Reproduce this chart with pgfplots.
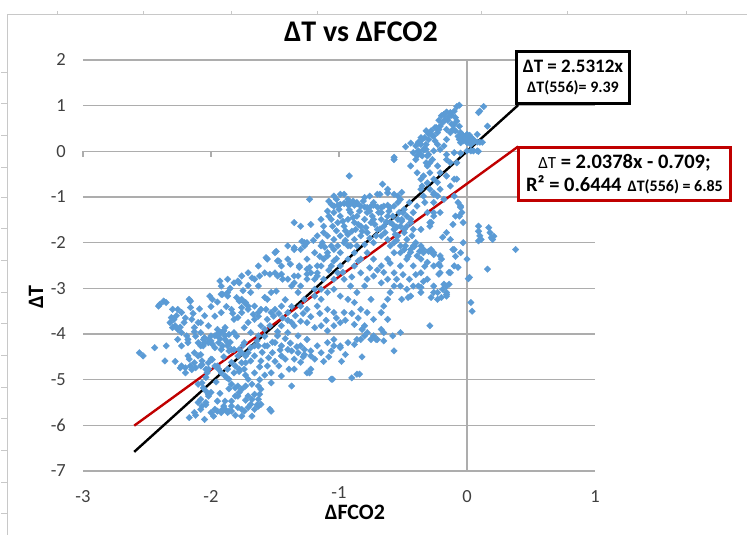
\documentclass[border=0pt]{standalone}
\usepackage{fontspec}
\setmainfont{Carlito}
\usepackage{pgfplots}
\usepackage{pgfplotstable}
\pgfplotsset{compat=1.18}
\definecolor{scat}{HTML}{5B9BD5}
\definecolor{fitred}{HTML}{C00000}
\definecolor{gridc}{HTML}{ADADAD}
\definecolor{tickc}{HTML}{404040}
\definecolor{framec}{HTML}{C8C8C8}
\newcommand\fs[2]{\fontsize{#1}{#2}\selectfont}

\pgfplotstableread{
x y
-2.17 -5.83
-2.13 -5.72
-2.08 -5.65
-2.05 -5.87
-2.00 -5.72
-1.95 -5.69
-1.91 -5.65
-1.87 -5.72
-1.84 -5.69
-1.79 -5.61
-1.76 -5.65
-1.74 -5.69
-1.71 -5.61
-1.69 -5.54
-1.66 -5.65
-1.54 -5.65
-2.08 -5.43
-2.02 -5.36
-2.00 -5.28
-1.95 -5.47
-1.89 -5.47
-1.84 -5.47
-1.79 -5.36
-1.76 -5.21
-1.71 -5.36
-1.66 -5.32
-1.63 -5.43
-1.61 -5.21
-1.79 -5.14
-1.71 -4.99
-1.66 -4.85
-1.53 -5.07
-1.45 -4.92
-1.37 -5.14
-2.12 -5.78
-1.98 -5.80
-1.81 -5.78
-2.04 -5.55
-1.93 -5.30
-1.86 -5.20
-1.73 -5.45
-1.68 -5.10
-1.62 -5.00
-1.58 -4.90
-1.64 -5.55
-1.90 -5.58
-2.10 -5.50
-1.62 -5.32
-1.61 -5.54
-1.53 -5.69
-1.63 -5.14
-1.39 -4.77
-1.35 -4.77
-1.23 -4.85
-1.22 -4.77
-1.05 -4.99
-0.90 -4.96
-0.84 -4.88
-0.82 -4.50
-0.75 -4.12
-0.71 -4.12
-0.65 -4.15
-0.58 -4.04
-0.57 -4.37
-2.10 -5.10
-2.07 -5.07
-2.06 -5.18
-2.04 -5.25
-2.02 -5.32
-2.04 -5.50
-2.07 -5.58
-1.97 -5.65
-1.92 -5.72
-1.89 -5.65
-1.86 -5.69
-1.84 -5.58
-1.81 -5.36
-1.78 -5.28
-1.73 -5.14
-1.68 -5.43
-1.76 -5.80
-1.68 -5.80
-1.63 -5.58
-1.94 -4.77
-1.92 -4.85
-1.89 -4.92
-1.86 -4.99
-1.84 -5.10
-1.81 -5.18
-1.78 -4.77
-1.73 -4.63
-1.69 -4.59
-2.23 -4.70
-2.18 -4.48
-2.13 -4.41
-2.08 -4.26
-2.02 -4.19
-1.97 -4.30
-1.92 -4.34
-1.87 -4.26
-1.82 -4.34
-1.79 -4.48
-1.76 -4.63
-1.71 -4.41
-1.66 -4.48
-1.61 -4.59
-1.56 -4.70
-2.26 -4.12
-2.18 -4.12
-2.10 -4.19
-2.05 -4.08
-2.00 -4.15
-1.95 -4.04
-1.89 -4.12
-2.23 -4.26
-2.13 -4.63
-2.02 -4.77
-1.95 -4.70
-1.87 -4.77
-1.82 -4.85
-1.74 -4.77
-1.66 -4.26
-1.58 -4.26
-1.52 -4.41
-1.45 -4.48
-1.37 -4.37
-1.32 -4.41
-1.27 -4.34
-1.22 -4.48
-1.17 -4.26
-1.09 -4.19
-1.04 -4.12
-0.99 -4.26
-0.93 -4.19
-0.88 -4.23
-0.83 -4.12
-1.06 -4.99
-0.86 -4.88
-1.25 -4.85
-1.53 -4.85
-2.56 -4.41
-2.53 -4.48
-2.44 -4.30
-2.36 -4.59
-2.35 -4.26
-2.31 -3.64
-2.30 -3.46
-2.28 -3.82
-2.26 -3.90
-2.23 -3.97
-2.19 -4.04
-2.40 -3.35
-2.37 -3.28
-2.35 -3.31
-2.26 -3.46
-2.23 -3.53
-2.17 -3.24
-2.41 -3.39
-2.27 -3.60
-2.30 -3.86
-2.18 -4.19
-2.29 -3.68
-2.21 -3.75
-2.16 -3.28
-2.16 -3.42
-1.93 -2.84
-1.78 -2.88
-1.68 -2.77
-1.62 -2.73
-2.01 -3.17
-1.99 -3.24
-1.91 -3.13
-1.87 -3.17
-1.78 -3.28
-1.73 -3.31
-1.76 -3.42
-1.71 -3.39
-1.94 -3.97
-1.90 -3.93
-1.89 -4.04
-1.86 -4.01
-1.84 -4.34
-1.86 -4.37
-1.78 -4.34
-1.76 -4.41
-1.73 -4.48
-2.24 -4.74
-2.20 -4.74
-2.16 -4.70
-2.12 -4.74
-2.08 -4.70
-2.07 -4.67
-2.04 -4.77
-2.03 -4.85
-2.10 -4.48
-2.07 -4.59
-2.02 -4.63
-1.99 -4.56
-1.97 -4.70
-1.94 -4.19
-1.91 -4.26
-1.97 -4.04
-2.02 -4.12
-2.06 -4.26
-1.84 -4.62
-1.81 -4.70
-1.78 -4.82
-1.73 -4.90
-1.62 -4.72
-1.88 -4.95
-1.90 -4.50
-2.00 -4.55
-2.15 -4.78
-2.20 -4.85
-2.04 -4.95
-1.96 -5.05
-2.15 -3.68
-2.10 -3.75
-2.08 -3.97
-2.05 -4.19
-2.02 -3.82
-1.97 -3.61
-1.95 -3.90
-1.92 -3.97
-1.89 -3.86
-1.87 -4.19
-1.82 -3.97
-1.79 -3.64
-1.76 -3.53
-1.71 -3.75
-1.69 -3.97
-1.66 -3.68
-1.63 -3.53
-1.61 -3.82
-1.58 -3.90
-1.56 -3.68
-1.92 -3.13
-1.87 -3.09
-1.79 -2.84
-1.76 -3.24
-1.74 -3.31
-1.69 -3.09
-1.63 -2.95
-1.58 -3.20
-1.56 -3.24
-1.53 -3.09
-1.49 -3.06
-1.48 -2.73
-1.40 -2.80
-1.35 -2.88
-1.31 -2.51
-1.25 -2.58
-1.19 -2.80
-1.17 -2.66
-1.14 -3.02
-1.12 -2.80
-1.61 -3.46
-1.63 -3.61
-1.84 -3.46
-1.82 -3.68
-1.74 -3.86
-1.66 -3.39
-2.08 -3.75
-2.13 -3.86
-2.00 -4.04
-1.92 -3.53
-1.71 -3.46
-1.67 -3.57
-1.57 -3.46
-1.54 -3.82
-1.51 -3.61
-1.63 -4.04
-1.74 -4.19
-1.92 -2.95
-1.71 -2.94
-1.48 -3.95
-1.42 -4.10
-1.38 -4.20
-1.33 -4.28
-1.46 -4.35
-1.52 -4.18
-1.58 -4.05
-1.44 -3.65
-1.47 -3.55
-1.40 -3.70
-1.53 -3.53
-1.50 -3.46
-1.45 -3.39
-1.40 -3.53
-1.37 -3.75
-1.35 -3.82
-1.30 -3.72
-1.25 -3.75
-1.19 -3.86
-1.14 -3.82
-1.09 -3.93
-1.04 -3.82
-0.99 -3.75
-1.45 -3.82
-1.40 -3.97
-1.32 -4.04
-1.25 -4.12
-1.04 -4.26
-1.48 -4.04
-1.50 -4.19
-1.56 -4.26
-1.63 -4.26
-1.45 -4.26
-1.40 -4.34
-1.30 -4.26
-1.27 -4.45
-1.22 -4.37
-1.14 -4.41
-1.06 -4.37
-0.99 -4.30
-0.86 -4.12
-0.80 -4.04
-0.78 -3.97
-0.73 -4.04
-0.70 -4.12
-0.65 -3.97
-0.52 -3.97
-0.67 -3.90
-0.80 -3.82
-0.88 -3.79
-0.96 -3.53
-1.04 -3.53
-1.09 -3.46
-1.17 -3.39
-1.27 -3.24
-1.32 -3.09
-1.30 -3.39
-1.25 -3.46
-1.19 -3.17
-1.14 -3.24
-1.09 -3.09
-1.04 -3.02
-0.99 -3.17
-0.93 -3.24
-0.88 -3.31
-0.83 -3.46
-0.78 -3.53
-0.73 -3.68
-0.67 -3.53
-0.65 -3.39
-0.62 -3.24
-0.60 -3.09
-0.57 -2.95
-0.62 -3.68
-0.75 -3.24
-0.80 -2.95
-0.86 -3.09
-0.91 -2.95
-0.96 -2.80
-1.01 -2.66
-1.06 -2.51
-1.12 -2.36
-1.17 -2.51
-1.22 -2.66
-1.25 -2.80
-1.30 -2.95
-1.32 -2.73
-1.19 -3.02
-1.04 -2.80
-0.99 -2.51
-0.93 -2.36
-0.88 -2.51
-0.83 -2.66
-0.78 -2.80
-0.73 -2.73
-0.67 -2.88
-0.62 -2.80
-0.57 -2.66
-0.52 -2.51
-0.52 -2.95
-0.47 -3.02
-0.42 -2.95
-0.36 -3.09
-0.31 -2.80
-0.26 -2.95
-0.23 -3.09
-0.16 -2.95
-0.16 -3.09
-0.13 -2.66
-0.21 -2.51
-0.26 -2.51
-0.36 -2.66
-0.42 -2.51
-0.47 -2.36
-0.52 -2.22
-0.57 -2.22
-0.62 -2.36
-0.67 -2.51
-0.73 -2.36
-0.78 -2.22
-0.83 -2.36
-0.88 -2.22
-0.93 -2.07
-0.99 -2.22
-1.04 -2.15
-1.09 -2.22
-1.14 -2.07
-1.19 -2.22
-1.25 -2.36
-1.27 -2.07
-1.30 -2.15
-1.35 -2.11
-1.40 -2.07
-1.40 -2.36
-1.45 -2.51
-1.50 -2.22
-1.56 -2.36
-1.58 -2.66
-1.63 -2.51
-1.66 -2.80
-1.71 -2.66
-1.76 -2.73
-1.82 -2.88
-1.87 -2.80
-1.50 -2.66
-1.44 -2.80
-1.37 -2.95
-0.36 -2.07
-0.26 -2.22
-0.21 -2.29
-0.10 -2.15
-0.05 -2.22
0.16 -2.58
-1.06 -1.16
-1.04 -1.20
-1.01 -1.18
-0.99 -1.16
-0.96 -1.14
-0.93 -1.17
-0.91 -1.15
-0.88 -1.18
-0.86 -1.15
-0.83 -1.20
-0.80 -1.22
-0.78 -1.23
-0.75 -1.20
-0.73 -1.18
-0.70 -1.22
-0.67 -1.23
-0.65 -1.20
-0.62 -1.18
-0.60 -1.23
-0.57 -1.20
-1.04 -0.98
-0.99 -0.94
-0.93 -1.05
-0.80 -1.01
-0.70 -0.94
-0.62 -0.91
-0.54 -0.98
-0.52 -1.05
-1.09 -1.31
-1.08 -1.42
-1.06 -1.49
-1.04 -1.34
-1.01 -1.56
-0.99 -1.42
-0.96 -1.64
-0.93 -1.49
-0.91 -1.34
-0.88 -1.56
-0.86 -1.42
-0.83 -1.64
-0.80 -1.49
-0.78 -1.34
-0.75 -1.56
-0.73 -1.49
-0.70 -1.71
-0.67 -1.49
-0.65 -1.64
-0.62 -1.42
-0.60 -1.56
-0.57 -1.71
-0.54 -1.49
-0.52 -1.64
-0.49 -1.78
-1.12 -1.78
-1.09 -1.85
-1.04 -1.93
-0.99 -1.85
-0.93 -1.82
-0.88 -1.93
-0.83 -1.85
-0.78 -1.78
-0.73 -2.00
-0.67 -1.85
-0.62 -1.93
-0.60 -2.07
-0.57 -2.00
-0.54 -1.85
-0.52 -2.07
-0.47 -1.93
-0.44 -2.15
-0.42 -2.07
-0.39 -2.29
-0.34 -2.22
-0.29 -2.18
-1.12 -1.64
-1.13 -2.00
-1.06 -2.07
-1.01 -2.07
-0.96 -2.00
-0.91 -2.07
-0.86 -2.07
-0.80 -2.04
-1.09 -2.29
-1.04 -2.40
-1.00 -1.27
-0.92 -1.28
-0.84 -1.31
-0.76 -1.31
-0.69 -1.34
-0.61 -1.31
-0.53 -1.34
-1.02 -1.74
-0.95 -1.74
-0.87 -1.71
-0.79 -1.67
-0.71 -1.85
-0.64 -1.78
-0.56 -1.82
-1.05 -1.64
-0.97 -1.53
-0.89 -1.45
-0.74 -1.42
-0.67 -1.34
-0.58 -1.42
-0.51 -1.49
-0.47 -1.64
-0.48 -2.07
-0.43 -1.85
-0.40 -2.00
-1.35 -1.56
-1.30 -1.64
-1.22 -1.60
-1.27 -2.00
-1.57 -2.33
-1.48 -2.40
-1.23 -1.05
-0.92 -0.54
-1.14 -1.49
-1.17 -1.85
-1.29 -1.97
-1.25 -2.00
-1.49 -2.19
-1.35 -2.15
-1.11 -2.10
-1.47 -2.40
-1.38 -2.47
-1.31 -2.54
-1.23 -2.54
-1.14 -2.51
-1.54 -2.69
-1.45 -2.69
-1.35 -2.73
-1.25 -2.69
-1.17 -2.73
-1.08 -1.09
-1.02 -1.05
-0.96 -0.94
-0.93 -1.12
-0.89 -1.09
-0.86 -1.12
-0.81 -1.09
-0.76 -0.98
-0.73 -1.12
-0.68 -0.94
-0.44 -0.32
-0.40 -0.18
-0.39 -0.47
-0.36 -0.61
-0.35 -0.76
-0.34 -0.54
-0.31 -0.69
-0.29 -0.83
-0.26 -0.91
-0.23 -0.98
-0.21 -0.83
-0.18 -1.05
-0.26 -0.61
-0.29 -0.47
-0.31 -0.32
-0.32 -0.25
-0.35 -0.10
-0.38 0.01
-0.40 0.12
-0.36 0.15
-0.32 0.04
-0.30 -0.07
-0.27 -0.18
-0.23 -0.32
-0.21 -0.47
-0.16 -0.54
-0.13 -0.76
-0.10 -0.98
-0.08 -0.61
-0.05 -1.20
-0.06 -1.42
-0.04 -1.34
-0.16 -0.18
-0.26 -1.42
-0.29 -1.56
-0.21 -1.34
-0.29 -1.64
-0.36 -1.71
-0.42 -1.71
-0.44 -1.56
-0.47 -1.42
-0.42 -1.34
-0.39 -1.20
-0.45 -1.12
-0.49 -1.27
-0.13 -1.93
-0.03 -2.00
-0.16 -1.78
0.00 -2.36
-0.57 -0.18
-0.66 -0.72
-0.62 -0.83
-0.57 -0.94
0.02 -2.76
-0.09 -2.30
-0.07 -2.54
-0.14 -2.65
-0.11 -2.15
-0.19 -1.88
-0.20 -2.36
-0.22 -2.47
-0.22 -2.69
-0.28 -2.15
-0.26 -2.26
-0.14 -2.91
-0.18 -2.91
-0.19 -3.02
-0.16 -3.13
-0.20 -3.20
-0.23 -3.24
-0.28 -3.20
-0.26 -3.09
-0.36 -2.98
-0.38 -2.95
-0.44 -3.17
-0.46 -3.20
-0.51 -3.24
-0.33 -2.52
-0.31 -2.43
-0.36 -2.36
-0.37 -2.19
-0.34 -2.15
-0.30 -2.19
-0.41 -2.08
-0.44 -2.21
-0.46 -2.30
-0.49 -2.15
-0.03 -1.56
-0.05 -1.23
-0.07 -1.12
-0.09 -1.42
-0.11 -1.60
-0.05 -0.04
-0.10 -0.61
-0.23 -0.68
-0.26 -0.94
-0.26 -1.12
-0.26 -1.34
-0.28 -1.56
-0.31 -1.34
-0.33 -1.12
-0.34 -0.98
-0.36 -0.83
-0.51 -0.90
-0.54 -1.12
-0.50 -1.34
-0.51 -1.53
-0.55 -1.66
-0.49 -1.71
-0.44 -1.49
-0.06 1.01
-0.08 0.98
-0.10 0.88
-0.13 0.85
-0.16 0.86
-0.18 0.81
-0.14 0.76
-0.12 0.79
-0.09 0.74
-0.08 0.66
-0.17 0.70
-0.19 0.63
-0.21 0.55
-0.22 0.48
-0.23 0.41
-0.25 0.52
-0.26 0.34
-0.25 0.23
-0.23 0.15
-0.21 0.04
-0.18 0.12
-0.16 0.26
-0.13 0.41
-0.11 0.48
-0.10 0.59
-0.06 0.55
-0.05 0.41
-0.04 0.34
-0.03 0.30
-0.01 0.26
0.00 0.28
0.01 0.23
0.03 0.30
0.04 0.26
-0.03 0.23
-0.05 0.19
0.00 0.19
0.03 0.15
-0.06 0.26
-0.04 0.37
0.00 0.37
0.05 0.26
0.08 0.37
0.00 0.01
0.03 0.01
0.05 0.01
0.08 0.01
0.10 0.88
0.13 0.98
0.09 0.85
0.16 0.55
-0.16 0.48
-0.42 -0.03
-0.34 0.04
-0.31 -0.10
-0.29 -0.25
-0.35 0.26
-0.32 0.15
-0.30 0.26
-0.27 0.34
-0.13 -0.25
-0.08 -0.25
-0.10 -0.03
-0.16 -0.07
-0.26 0.01
-0.39 -0.10
-0.02 0.32
0.02 0.35
0.04 0.20
-0.04 0.28
0.01 0.30
-0.07 0.33
0.06 0.22
0.08 0.20
0.10 0.20
0.12 0.20
-0.09 0.45
-0.12 0.60
-0.15 0.68
-0.20 0.78
-0.22 0.68
-0.28 0.45
-0.30 0.38
-0.32 0.45
-0.36 0.30
-0.38 0.20
-0.44 0.18
-0.48 0.10
-0.57 -0.13
-0.36 -0.07
-0.33 0.04
-0.33 0.30
-0.24 0.52
-0.18 0.81
0.09 0.00
0.09 -1.64
0.17 -1.67
0.19 -1.89
0.09 -1.96
0.01 -2.79
0.03 -3.31
0.04 -3.50
-0.29 -3.82
0.18 -1.78
-0.10 -2.51
-0.21 -2.66
-0.16 -3.17
0.38 -2.15
0.09 -1.75
0.10 -1.85
0.21 -1.86
0.20 -1.93
0.11 -1.93
-2.12 -4.05
-2.06 -4.12
-1.99 -4.22
-1.93 -4.10
-1.85 -4.18
-1.80 -4.05
-1.75 -4.25
-1.69 -4.30
-1.64 -4.15
-1.60 -4.40
-1.55 -4.52
-1.50 -4.60
-1.47 -4.70
-1.42 -4.55
-1.35 -4.55
-1.30 -4.62
-1.28 -4.50
-1.19 -4.55
-1.12 -4.60
-1.08 -4.50
-0.95 -4.45
-0.98 -4.60
-2.14 -3.55
-2.09 -3.45
-2.05 -3.60
-2.00 -3.40
-1.95 -3.30
-1.88 -3.40
-1.83 -3.55
-1.80 -3.20
-1.85 -3.00
-1.75 -3.05
-1.42 -3.25
-1.37 -3.40
-1.34 -3.60
-1.28 -3.55
-1.22 -3.62
-1.15 -3.55
-1.10 -3.70
-1.02 -3.65
-0.95 -3.70
-0.90 -3.55
-0.85 -3.65
-0.82 -3.90
-1.20 -1.95
-1.15 -2.30
-1.08 -2.60
-1.02 -2.35
-0.97 -2.65
-0.90 -2.75
-0.85 -2.40
-0.76 -2.55
-0.70 -2.60
-0.65 -2.65
-0.60 -2.45
-0.55 -2.80
-0.50 -2.70
-0.45 -2.80
-0.40 -2.70
-0.34 -2.85
-0.95 -1.95
-0.90 -1.75
-0.85 -1.60
-0.82 -1.75
-0.76 -1.90
-0.72 -1.60
-0.68 -1.70
-0.63 -1.55
-0.58 -1.60
-0.55 -1.95
-2.32 -3.75
-2.24 -3.85
-2.20 -3.65
-2.13 -3.95
-2.08 -4.45
-2.17 -4.55
-2.28 -4.60
}\scatterdata

\begin{document}
\begin{tikzpicture}
\useasboundingbox (-83pt,-64pt) rectangle (664pt,471pt);
% spreadsheet frame remnants
\draw[framec, line width=1pt] (-75pt,-64pt) -- (-75pt,456pt) -- (664pt,456pt);
\foreach \px in {57,143,231,317,481,567,686}{
  \draw[framec, line width=0.8pt] ({\px pt-83pt},456pt) -- ({\px pt-83pt},460pt);
}
\foreach \py in {72,103,135,167,197,228,260,292,323,355,387,418,450,482,513}{
  \draw[framec, line width=0.8pt] (-75pt,{471pt-\py pt}) -- (-82pt,{471pt-\py pt});
}
\begin{axis}[
  at={(0pt,0pt)}, anchor=south west,
  scale only axis, width=512pt, height=411pt,
  xmin=-3, xmax=1, ymin=-7, ymax=2,
  axis line style={draw=none},
  xtick={-3,-2,-1,0,1}, xticklabels={-3,-2,\raisebox{4pt}{-1},0,1},
  ytick={-7,-6,-5,-4,-3,-2,-1,0,1,2},
  yticklabels={-7,-6,-5,-4,-3,-2,-1,0,1,2},
  major tick length=0pt,
  ymajorgrids, xmajorgrids=false,
  grid style={gridc, line width=1.2pt},
  tick label style={font=\fs{18.5}{22}, text=tickc, inner sep=0pt},
  xticklabel style={anchor=base, yshift=-32pt},
  yticklabel style={anchor=east, xshift=-17pt},
  title={ΔT vs ΔFCO2},
  title style={at={(axis description cs:0.543,1.0535)}, anchor=center, font=\fs{30}{36}\bfseries},
  xlabel={ΔFCO2},
  xlabel style={at={(axis description cs:0.531,-0.101)}, anchor=center, font=\fs{22}{26}\bfseries},
  ylabel={ΔT},
  ylabel style={at={(axis description cs:-0.0918,0.423)}, anchor=center, font=\fs{22}{26}\bfseries},
  clip=false,
]
\draw[gridc, line width=1.2pt] (axis cs:0,-7) -- (axis cs:0,2);
\draw[gridc, line width=1.2pt] (axis cs:-3,0) -- ++(0pt,-6pt);
\draw[gridc, line width=1.2pt] (axis cs:-2,0) -- ++(0pt,-6pt);
\draw[gridc, line width=1.2pt] (axis cs:-1,0) -- ++(0pt,-6pt);
\draw[gridc, line width=1.2pt] (axis cs:1,0) -- ++(0pt,-6pt);
\addplot[only marks, mark=square*, mark size=2.3pt, color=scat,
  mark options={rotate=45, fill=scat, draw=scat}] table {\scatterdata};
\addplot[black, line width=2.4pt, mark=none] coordinates {(-2.6,-6.5811) (0.4,1.0125)};
\addplot[fitred, line width=2.4pt, mark=none] coordinates {(-2.6,-6.0073) (0.4,0.1061)};
\end{axis}
\node[draw=black, line width=3pt, fill=white, minimum width=113pt, minimum height=52pt,
  inner sep=0pt, align=center, font=\fs{19}{21}\bfseries] at (490pt,393.5pt)
  {ΔT = 2.5312x\\[-1pt]{\fs{16}{21}\bfseries ΔT(556)= 9.39}};
\node[draw=fitred, line width=3pt, fill=white, minimum width=212pt, minimum height=53pt,
  inner sep=0pt, align=center, font=\fs{20.5}{23}\bfseries] at (541.5pt,297pt)
  {{\fs{17}{23}\mdseries ΔT} = 2.0378x - 0.709;\\R² = 0.6444\hspace{6pt}{\fs{16}{23}\bfseries ΔT(556) = 6.85}};
\end{tikzpicture}
\end{document}
